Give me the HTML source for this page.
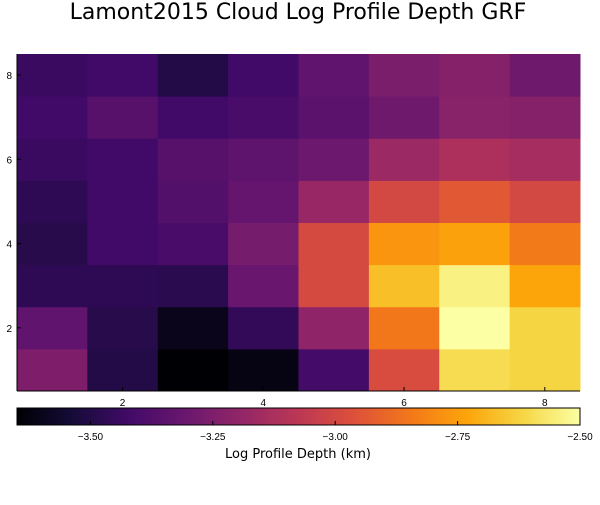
<!DOCTYPE html>
<html><head><meta charset="utf-8"><style>
body{margin:0;background:#fff;font-family:"Liberation Sans","DejaVu Sans",sans-serif}
</style></head><body>
<svg id="chart" width="600" height="500" xmlns="http://www.w3.org/2000/svg">
<text x="298" y="19" font-size="22" text-anchor="middle" font-family="DejaVu Sans, sans-serif">Lamont2015 Cloud Log Profile Depth GRF</text>
<g id="cells"></g>
<g id="axes"></g>
<defs><linearGradient id="grad" x1="0" x2="1" y1="0" y2="0"></linearGradient></defs>
<g id="cbar"></g>
<text x="298" y="458" font-size="13" text-anchor="middle" font-family="DejaVu Sans, sans-serif">Log Profile Depth (km)</text>
</svg>
<script>
const xCats=[1,2,3,4,5,6,7,8];
const yCats=[1,2,3,4,5,6,7,8];
// rows from y=1 (bottom) to y=8 (top)
const row1=[-3.25,-3.50,-3.65,-3.62,-3.41,-2.98,-2.60,-2.62];
const row2=[-3.33,-3.49,-3.60,-3.46,-3.20,-2.85,-2.50,-2.62];
const row3=[-3.47,-3.47,-3.48,-3.31,-2.99,-2.67,-2.54,-2.73];
const row4=[-3.49,-3.42,-3.40,-3.27,-2.99,-2.77,-2.74,-2.84];
const row5=[-3.47,-3.42,-3.37,-3.32,-3.18,-3.00,-2.94,-3.00];
const row6=[-3.44,-3.42,-3.36,-3.34,-3.30,-3.17,-3.12,-3.14];
const row7=[-3.42,-3.36,-3.42,-3.40,-3.35,-3.29,-3.22,-3.23];
const row8=[-3.44,-3.42,-3.50,-3.42,-3.33,-3.26,-3.23,-3.29];
const rows=[row1,row2,row3,row4,row5,row6,row7,row8];
const xTicks=[2,4,6,8];
const yTicks=[2,4,6,8];
const cTicks=[-3.5,-3.25,-3.0,-2.75,-2.5];
const cTickLabels=["\u22123.50","\u22123.25","\u22123.00","\u22122.75","\u22122.50"];
const vMin=-3.65, vMax=-2.5;

const L=17,R=580,T=54,B=391;
const sx=v=>L+(v-0.5)/8*(R-L);
const sy=v=>B-(v-0.5)/8*(B-T);
const cs=v=>L+(v-vMin)/(vMax-vMin)*(R-L);
const stops=["#000004","#160b39","#420a68","#6a176e","#932667","#bc3754","#dd513a","#f37819","#fca50a","#f6d746","#fcffa4"];
function hex(h){return [1,3,5].map(i=>parseInt(h.substr(i,2),16));}
function inferno(t){t=Math.max(0,Math.min(1,t));const p=t*10,i=Math.min(9,Math.floor(p)),f=p-i;
 const a=hex(stops[i]),b=hex(stops[i+1]);return "rgb("+a.map((c,k)=>Math.round(c+(b[k]-c)*f)).join(",")+")";}
const NS="http://www.w3.org/2000/svg";
function mk(tag,attrs,parent){const e=document.createElementNS(NS,tag);for(const k in attrs)e.setAttribute(k,attrs[k]);parent.appendChild(e);return e;}
const cells=document.getElementById('cells');
rows.forEach((row,ri)=>row.forEach((v,ci)=>{
 const x0=sx(xCats[ci]-0.5),x1=sx(xCats[ci]+0.5),y0=sy(yCats[ri]+0.5),y1=sy(yCats[ri]-0.5);
 const r=mk('rect',{x:x0,y:y0,width:x1-x0+0.5,height:y1-y0+0.5,fill:inferno((v-vMin)/(vMax-vMin))},cells);
 
 
}));
const ax=document.getElementById('axes');
mk('line',{x1:L,x2:R,y1:B,y2:B,stroke:'#000','stroke-width':1},ax);
mk('line',{x1:L,x2:L,y1:T,y2:B,stroke:'#000','stroke-width':1},ax);
xTicks.forEach(t=>{
 mk('line',{x1:sx(t),x2:sx(t),y1:B,y2:B-4,stroke:'#000'},ax);
 const e=mk('text',{x:sx(t),y:B+15,'font-size':10,'text-anchor':'middle'},ax);e.textContent=t;
 
 
});
yTicks.forEach(t=>{
 mk('line',{x1:L,x2:L+4,y1:sy(t),y2:sy(t),stroke:'#000'},ax);
 const e=mk('text',{x:L-5,y:sy(t)+4,'font-size':10,'text-anchor':'end'},ax);e.textContent=t;
 
 
});
const g=document.getElementById('grad');
for(let i=0;i<=20;i++)mk('stop',{offset:i/20,'stop-color':inferno(i/20)},g);
const cb=document.getElementById('cbar');
const bar=mk('rect',{x:L,y:408,width:R-L,height:17,fill:'url(#grad)',stroke:'#000','stroke-width':1},cb);


cTicks.forEach((t,i)=>{
 mk('line',{x1:cs(t),x2:cs(t),y1:425,y2:421,stroke:'#000'},cb);
 const e=mk('text',{x:cs(t),y:440,'font-size':10,'text-anchor':'middle'},cb);e.textContent=cTickLabels[i];
 
 
});
</script>
</body></html>
